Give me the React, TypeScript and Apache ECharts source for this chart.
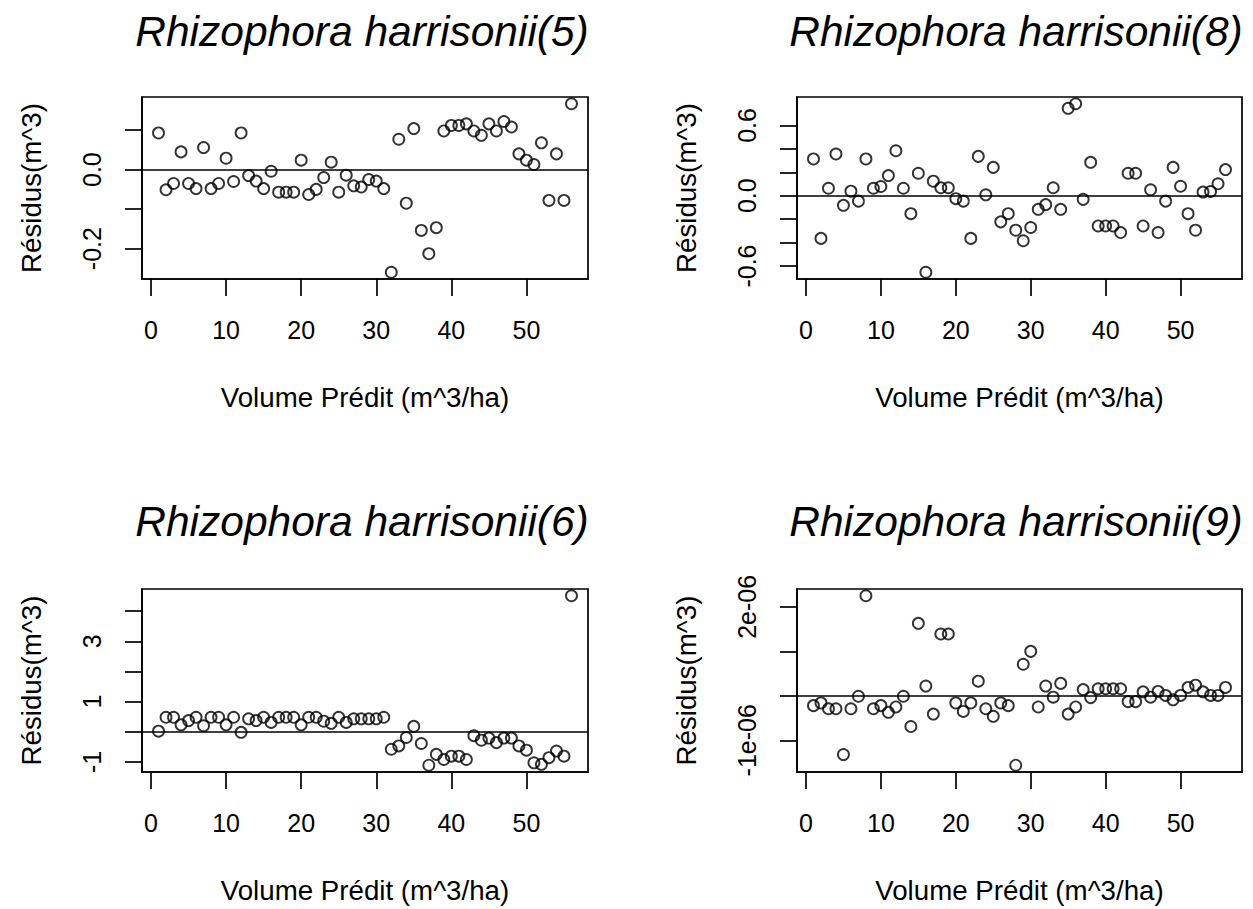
import React, { useEffect, useRef } from 'react';
import * as echarts from 'echarts';

const FONT = '"Liberation Sans", Arial, sans-serif';

// observation index (x)
const obsIndex = [
  1, 2, 3, 4, 5, 6, 7, 8, 9, 10, 11, 12, 13, 14, 15, 16, 17, 18, 19, 20,
  21, 22, 23, 24, 25, 26, 27, 28, 29, 30, 31, 32, 33, 34, 35, 36, 37, 38, 39, 40,
  41, 42, 43, 44, 45, 46, 47, 48, 49, 50, 51, 52, 53, 54, 55, 56,
];

const titles = [
  'Rhizophora harrisonii(5)',
  'Rhizophora harrisonii(8)',
  'Rhizophora harrisonii(6)',
  'Rhizophora harrisonii(9)',
];

const xAxisTitle = 'Volume Prédit (m^3/ha)';
const yAxisTitle = 'Résidus(m^3)';

const xTicks = [0, 10, 20, 30, 40, 50];

// residuals, panel (5)
const res5 = [
  0.093, -0.051, -0.035, 0.045, -0.035, -0.048, 0.056, -0.048, -0.035, 0.029,
  -0.030, 0.093, -0.015, -0.029, -0.048, -0.004, -0.057, -0.057, -0.057, 0.024,
  -0.063, -0.050, -0.020, 0.019, -0.057, -0.014, -0.041, -0.044, -0.025, -0.029,
  -0.048, -0.260, 0.077, -0.085, 0.104, -0.154, -0.213, -0.147, 0.098, 0.112,
  0.112, 0.116, 0.098, 0.087, 0.116, 0.098, 0.122, 0.108, 0.040, 0.024,
  0.013, 0.068, -0.078, 0.040, -0.078, 0.167,
];
const yTicks5 = [-0.2, -0.1, 0, 0.1];
const yLabels5 = [-0.2, 0];

// residuals, panel (8)
const res8 = [
  0.314, -0.364, 0.064, 0.356, -0.082, 0.039, -0.046, 0.314, 0.064, 0.079,
  0.172, 0.384, 0.064, -0.153, 0.192, -0.653, 0.124, 0.068, 0.068, -0.025,
  -0.046, -0.364, 0.336, 0.008, 0.242, -0.223, -0.153, -0.294, -0.384, -0.271,
  -0.116, -0.076, 0.068, -0.116, 0.746, 0.785, -0.031, 0.285, -0.258, -0.258,
  -0.258, -0.314, 0.192, 0.192, -0.258, 0.051, -0.314, -0.046, 0.242, 0.081,
  -0.153, -0.294, 0.031, 0.036, 0.102, 0.223,
];
const yTicks8 = [-0.6, -0.4, -0.2, 0, 0.2, 0.4, 0.6];
const yLabels8 = [-0.6, 0, 0.6];

// residuals, panel (6)
const res6 = [
  0.02, 0.48, 0.48, 0.23, 0.37, 0.48, 0.20, 0.48, 0.48, 0.23,
  0.48, -0.02, 0.43, 0.37, 0.48, 0.31, 0.48, 0.48, 0.48, 0.23,
  0.48, 0.48, 0.35, 0.28, 0.48, 0.31, 0.43, 0.43, 0.43, 0.43,
  0.48, -0.58, -0.47, -0.19, 0.18, -0.39, -1.11, -0.75, -0.92, -0.81,
  -0.81, -0.92, -0.13, -0.28, -0.21, -0.36, -0.21, -0.21, -0.47, -0.61,
  -1.03, -1.08, -0.86, -0.64, -0.81, 4.51,
];
const yTicks6 = [-1, 0, 1, 2, 3, 4];
const yLabels6 = [-1, 1, 3];

// residuals, panel (9)
const res9 = [
  -0.22e-6, -0.16e-6, -0.29e-6, -0.29e-6, -1.32e-6, -0.29e-6, -0.01e-6, 2.25e-6, -0.29e-6, -0.22e-6,
  -0.37e-6, -0.25e-6, -0.01e-6, -0.69e-6, 1.63e-6, 0.22e-6, -0.41e-6, 1.39e-6, 1.39e-6, -0.16e-6,
  -0.35e-6, -0.16e-6, 0.33e-6, -0.29e-6, -0.46e-6, -0.16e-6, -0.22e-6, -1.56e-6, 0.71e-6, 1.0e-6,
  -0.25e-6, 0.22e-6, -0.03e-6, 0.28e-6, -0.41e-6, -0.25e-6, 0.14e-6, -0.04e-6, 0.16e-6, 0.16e-6,
  0.16e-6, 0.16e-6, -0.13e-6, -0.13e-6, 0.09e-6, -0.03e-6, 0.10e-6, 0.01e-6, -0.09e-6, 0.01e-6,
  0.19e-6, 0.24e-6, 0.09e-6, 0.01e-6, 0.01e-6, 0.19e-6,
];
const yTicks9 = [-1e-6, 0, 1e-6, 2e-6];
const yLabels9 = [-1e-6, 2e-6];

// R-style axis range: data range extended by 4% on each side
function rRange(v: number[]): [number, number] {
  const lo = Math.min(...v);
  const hi = Math.max(...v);
  const d = (hi - lo) * 0.04;
  return [lo - d, hi + d];
}

const fmtDec = (v: number) => (Math.abs(v) < 1e-12 ? '0.0' : v.toFixed(1));
const fmtInt = (v: number) => String(Math.round(v));
const fmtExp = (v: number) => `${Math.round(v * 1e6)}e-06`;

const panels = [
  { title: titles[0], data: res5, yTicks: yTicks5, yLabels: yLabels5, fmt: fmtDec,
    grid: { left: 142, top: 97, width: 446, height: 182 }, tx: 362, ty: 10 },
  { title: titles[1], data: res8, yTicks: yTicks8, yLabels: yLabels8, fmt: fmtDec,
    grid: { left: 797, top: 97, width: 445, height: 182 }, tx: 1016, ty: 10 },
  { title: titles[2], data: res6, yTicks: yTicks6, yLabels: yLabels6, fmt: fmtInt,
    grid: { left: 142, top: 589, width: 446, height: 183 }, tx: 362, ty: 500 },
  { title: titles[3], data: res9, yTicks: yTicks9, yLabels: yLabels9, fmt: fmtExp,
    grid: { left: 797, top: 589, width: 445, height: 183 }, tx: 1016, ty: 500 },
];

export default function App() {
  const ref = useRef<HTMLDivElement>(null);

  useEffect(() => {
    if (!ref.current) return;
    const chart = echarts.init(ref.current, undefined, { renderer: 'svg' });
    const xr = rRange(obsIndex);

    const option: any = {
      animation: false,
      backgroundColor: '#ffffff',
      textStyle: { fontFamily: FONT },
      title: panels.map((p) => ({
        text: p.title,
        left: p.tx,
        top: p.ty,
        textAlign: 'center',
        padding: 0,
        textStyle: {
          fontSize: 42.5,
          fontStyle: 'italic',
          fontWeight: 'normal',
          color: '#000',
          fontFamily: FONT,
        },
      })),
      grid: panels.map((p) => ({
        ...p.grid,
        show: true,
        borderColor: '#000',
        borderWidth: 1.7,
        backgroundColor: 'transparent',
        containLabel: false,
        outerBoundsMode: 'none',
      })),
      xAxis: panels.map((p, i) => ({
        type: 'value',
        gridIndex: i,
        min: xr[0],
        max: xr[1],
        name: xAxisTitle,
        nameLocation: 'middle',
        nameGap: 104,
        nameTextStyle: { fontSize: 27.7, color: '#000', fontFamily: FONT },
        axisLine: { show: true, onZero: false, lineStyle: { color: '#000', width: 1.7 } },
        axisTick: { show: true, length: 17, lineStyle: { color: '#000', width: 1.7 }, customValues: xTicks },
        axisLabel: { fontSize: 25, color: '#000', margin: 38, fontFamily: FONT, customValues: xTicks,
          formatter: (v: number) => fmtInt(v) },
        splitLine: { show: false },
      })),
      yAxis: panels.map((p, i) => {
        const yr = rRange(p.data);
        return {
          type: 'value',
          gridIndex: i,
          min: yr[0],
          max: yr[1],
          name: yAxisTitle,
          nameLocation: 'middle',
          nameGap: 97,
          nameTextStyle: { fontSize: 27.7, color: '#000', fontFamily: FONT },
          axisLine: { show: true, onZero: false, lineStyle: { color: '#000', width: 1.7 } },
          axisTick: { show: true, length: 17, lineStyle: { color: '#000', width: 1.7 }, customValues: p.yTicks },
          axisLabel: { fontSize: 25, color: '#000', margin: 38, rotate: 90, fontFamily: FONT,
            customValues: p.yLabels, formatter: (v: number) => p.fmt(v) },
          splitLine: { show: false },
        };
      }),
      series: panels.map((p, i) => ({
        type: 'scatter',
        xAxisIndex: i,
        yAxisIndex: i,
        data: obsIndex.map((x, j) => [x, p.data[j]]),
        symbol: 'circle',
        symbolSize: 11,
        itemStyle: { color: 'rgba(0,0,0,0)', borderColor: '#000', borderWidth: 1.9 },
        markLine: {
          silent: true,
          symbol: 'none',
          label: { show: false },
          lineStyle: { color: '#000', type: 'solid', width: 1.7 },
          data: [{ yAxis: 0 }],
        },
      })),
    };

    chart.setOption(option);
    return () => chart.dispose();
  }, []);

  return (
    <div
      ref={ref}
      style={{ position: 'fixed', left: 0, top: 0, width: 1253, height: 909, background: '#fff' }}
    />
  );
}
